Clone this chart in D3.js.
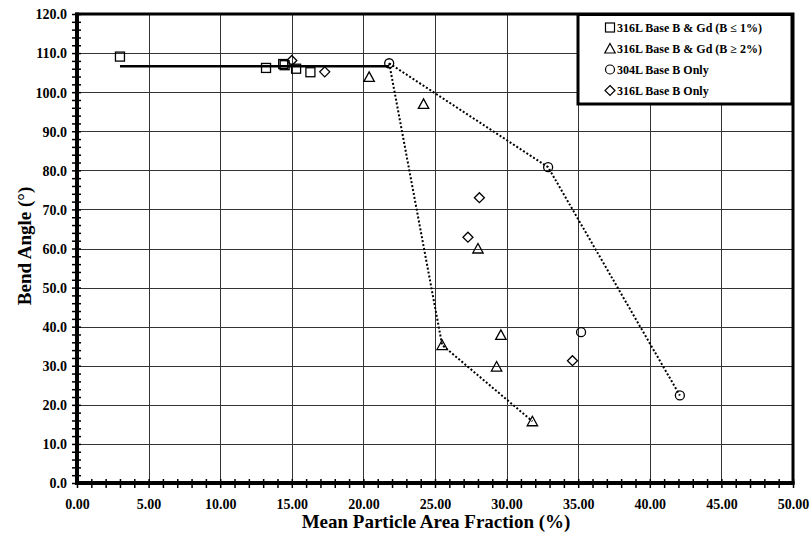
<!DOCTYPE html>
<html>
<head>
<meta charset="utf-8">
<script src="https://cdn.jsdelivr.net/npm/d3@7"></script>
<style>
  body { margin: 0; background: #fff; }
  svg { display: block; }
  text { font-family: "Liberation Serif", "Times New Roman", serif; font-weight: bold; fill: #000; }
</style>
</head>
<body>
<svg id="chart" width="812" height="543"></svg>
<script>
// Series: mean particle area fraction (%) vs bend angle (deg)
const seriesNames = [
  "316L Base B & Gd (B \u2264 1%)",
  "316L Base B & Gd (B \u2265 2%)",
  "304L Base B Only",
  "316L Base B Only"
];
const seriesShapes = ["square", "triangle", "circle", "diamond"];

const lowGdX = [3.0, 13.2, 14.4, 14.5, 15.3, 16.3];
const lowGdY = [109.1, 106.2, 107.2, 106.9, 106.0, 105.1];

const highGdX = [20.4, 24.2, 28.0, 29.6, 25.5, 29.3, 31.8];
const highGdY = [103.9, 97.0, 60.0, 37.9, 35.3, 29.8, 15.8];

const b304X = [21.8, 32.9, 35.2, 42.1];
const b304Y = [107.4, 80.8, 38.6, 22.4];

const b316X = [15.0, 17.3, 28.1, 27.3, 34.6];
const b316Y = [108.1, 105.2, 73.0, 62.9, 31.3];

// Mean level of the low-fraction group
const levelX = [3.0, 21.8];
const levelY = [106.6, 106.6];

// Dotted envelopes
const envelopeAX = [21.8, 25.5, 31.8];
const envelopeAY = [107.4, 35.3, 15.8];
const envelopeBX = [21.8, 32.9, 42.1];
const envelopeBY = [107.4, 80.8, 22.4];

const xTicks = [0, 5, 10, 15, 20, 25, 30, 35, 40, 45, 50];
const yTicks = [0, 10, 20, 30, 40, 50, 60, 70, 80, 90, 100, 110, 120];

const svg = d3.select("#chart");
const plotL = 77, plotR = 793, plotT = 14, plotB = 483;

const x = d3.scaleLinear().domain([0, 50]).range([plotL, plotR]);
const y = d3.scaleLinear().domain([0, 120]).range([plotB, plotT]);

// Grid
const grid = svg.append("g").attr("stroke", "#333").attr("stroke-width", 1);
grid.selectAll("line.v").data(xTicks.slice(1, -1)).join("line").attr("class", "v")
  .attr("x1", d => Math.round(x(d)) + 0.5).attr("x2", d => Math.round(x(d)) + 0.5)
  .attr("y1", plotT).attr("y2", plotB);
grid.selectAll("line.h").data(yTicks.slice(1, -1)).join("line").attr("class", "h")
  .attr("y1", d => Math.round(y(d)) + 0.5).attr("y2", d => Math.round(y(d)) + 0.5)
  .attr("x1", plotL).attr("x2", plotR);

// Axes with crossing tick marks
const yAxis = d3.axisLeft(y).tickValues(d3.range(0, 121, 2)).tickSize(0).tickFormat("");
const yg = svg.append("g").attr("transform", `translate(${plotL},0)`).call(yAxis);
yg.select(".domain").remove();
yg.selectAll(".tick line").attr("x1", -5).attr("x2", 4).attr("stroke", "#000").attr("stroke-width", 1.5);

const yLab = d3.axisLeft(y).tickValues(yTicks).tickSize(0).tickPadding(10).tickFormat(d => d.toFixed(1));
const ylg = svg.append("g").attr("transform", `translate(${plotL},0)`).call(yLab);
ylg.select(".domain").remove();
ylg.selectAll("text").attr("font-size", 14).attr("dy", "0.35em");
ylg.attr("font-family", null).attr("font-size", null);

const xAxis = d3.axisBottom(x).tickValues(d3.range(0, 51, 1)).tickSize(0).tickFormat("");
const xg = svg.append("g").attr("transform", `translate(0,${plotB})`).call(xAxis);
xg.select(".domain").remove();
xg.selectAll(".tick line").attr("y1", -4).attr("y2", 5).attr("stroke", "#000").attr("stroke-width", 1.5);

const xLab = d3.axisBottom(x).tickValues(xTicks).tickSize(0).tickPadding(0).tickFormat(d => d.toFixed(2));
const xlg = svg.append("g").attr("transform", `translate(0,${plotB})`).call(xLab);
xlg.select(".domain").remove();
xlg.selectAll("text").attr("font-size", 14).attr("dy", null).attr("y", 26);
xlg.attr("font-family", null).attr("font-size", null);

// Plot frame
svg.append("rect").attr("x", plotL).attr("y", plotT).attr("width", plotR - plotL).attr("height", plotB - plotT)
  .attr("fill", "none").attr("stroke", "#000").attr("stroke-width", 3);
svg.append("line").attr("x1", plotL).attr("x2", plotL).attr("y1", plotT - 1.5).attr("y2", plotB + 2)
  .attr("stroke", "#000").attr("stroke-width", 4);
svg.append("line").attr("x1", plotL - 2).attr("x2", plotR + 1.5).attr("y1", plotB).attr("y2", plotB)
  .attr("stroke", "#000").attr("stroke-width", 4);

// Trend lines
const line = d3.line().x(d => x(d[0])).y(d => y(d[1]));
svg.append("path").attr("d", line(d3.zip(levelX, levelY)))
  .attr("fill", "none").attr("stroke", "#000").attr("stroke-width", 2.5);
[[envelopeAX, envelopeAY], [envelopeBX, envelopeBY]].forEach(([xs, ys]) => {
  svg.append("path").attr("d", line(d3.zip(xs, ys)))
    .attr("fill", "none").attr("stroke", "#000").attr("stroke-width", 2)
    .attr("stroke-dasharray", "2,2");
});

// Marker shapes
function marker(g, shape, cx, cy) {
  const s = 4.5;
  if (shape === "square") {
    g.append("rect").attr("x", cx - s).attr("y", cy - s).attr("width", 2 * s).attr("height", 2 * s);
  } else if (shape === "circle") {
    g.append("circle").attr("cx", cx).attr("cy", cy).attr("r", s);
  } else if (shape === "triangle") {
    g.append("path").attr("d", `M${cx},${cy - 5}L${cx + 5.2},${cy + 4.5}L${cx - 5.2},${cy + 4.5}Z`);
  } else {
    g.append("path").attr("d", `M${cx},${cy - 5}L${cx + 5},${cy}L${cx},${cy + 5}L${cx - 5},${cy}Z`);
  }
}

const series = [
  [lowGdX, lowGdY], [highGdX, highGdY], [b304X, b304Y], [b316X, b316Y]
];
const pts = svg.append("g").attr("fill", "none").attr("stroke", "#000").attr("stroke-width", 1.3);
series.forEach(([xs, ys], i) => {
  xs.forEach((v, j) => marker(pts, seriesShapes[i], x(v), y(ys[j])));
});

// Legend
const lg = svg.append("g");
lg.append("rect").attr("x", 578).attr("y", 14.5).attr("width", 214).attr("height", 89.5)
  .attr("fill", "#fff").attr("stroke", "#000").attr("stroke-width", 3);
const lm = lg.append("g").attr("fill", "none").attr("stroke", "#000").attr("stroke-width", 1.2);
seriesNames.forEach((name, i) => {
  const cy = 27.5 + i * 21;
  marker(lm, seriesShapes[i], 610, cy);
  lg.append("text").attr("x", 617).attr("y", cy + 4.5).attr("font-size", 12).text(name);
});

// Axis titles
svg.append("text").attr("x", 436).attr("y", 528).attr("text-anchor", "middle")
  .attr("font-size", 19).text("Mean Particle Area Fraction (%)");
svg.append("text").attr("transform", "translate(31,246) rotate(-90)").attr("text-anchor", "middle")
  .attr("font-size", 19).text("Bend Angle (\u00b0)");
</script>
</body>
</html>
